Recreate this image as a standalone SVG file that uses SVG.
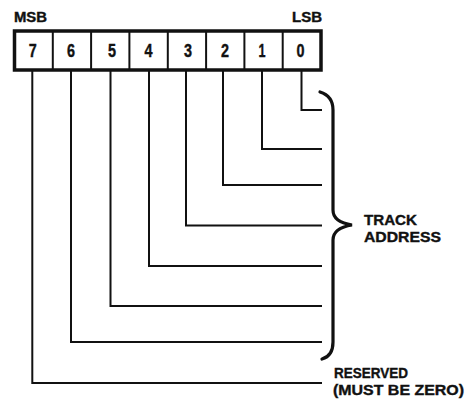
<svg xmlns="http://www.w3.org/2000/svg" width="466" height="401" viewBox="0 0 466 401">
  <style>
    .lbl { font-family: "Liberation Sans", Arial, sans-serif; font-weight: bold; fill: #111; stroke: #111; stroke-width: 0.4; }
    .bit { font-size: 18px; text-anchor: middle; }
    .cap { font-size: 14px; }
    .side { font-size: 15.5px; }
    .wire { fill: none; stroke: #111; stroke-width: 2; stroke-linejoin: miter; }
    .cell { fill: none; stroke: #111; stroke-width: 2; }
  </style>
  <rect width="466" height="401" fill="#fff"/>

  <!-- MSB / LSB captions -->
  <text class="lbl cap" x="14" y="22" textLength="33" lengthAdjust="spacingAndGlyphs">MSB</text>
  <text class="lbl cap" x="292" y="22" textLength="30" lengthAdjust="spacingAndGlyphs">LSB</text>

  <!-- register cells -->
  <g id="register">
    <rect x="14.5" y="31" width="306.5" height="39" fill="#fff" stroke="#111" stroke-width="3.5"/>
    <line class="cell" x1="52.8" y1="31" x2="52.8" y2="70"/>
    <line class="cell" x1="91.1" y1="31" x2="91.1" y2="70"/>
    <line class="cell" x1="129.4" y1="31" x2="129.4" y2="70"/>
    <line class="cell" x1="167.8" y1="31" x2="167.8" y2="70"/>
    <line class="cell" x1="206.1" y1="31" x2="206.1" y2="70"/>
    <line class="cell" x1="244.4" y1="31" x2="244.4" y2="70"/>
    <line class="cell" x1="282.7" y1="31" x2="282.7" y2="70"/>
    <g id="bit7"><text class="lbl bit" x="32.7" y="57" textLength="8" lengthAdjust="spacingAndGlyphs">7</text></g>
    <g id="bit6"><text class="lbl bit" x="71" y="57" textLength="8" lengthAdjust="spacingAndGlyphs">6</text></g>
    <g id="bit5"><text class="lbl bit" x="112" y="57" textLength="8" lengthAdjust="spacingAndGlyphs">5</text></g>
    <g id="bit4"><text class="lbl bit" x="148.5" y="57" textLength="8" lengthAdjust="spacingAndGlyphs">4</text></g>
    <g id="bit3"><text class="lbl bit" x="188" y="57" textLength="8" lengthAdjust="spacingAndGlyphs">3</text></g>
    <g id="bit2"><text class="lbl bit" x="225" y="57" textLength="8" lengthAdjust="spacingAndGlyphs">2</text></g>
    <g id="bit1"><text class="lbl bit" x="262" y="57" textLength="7" lengthAdjust="spacingAndGlyphs">1</text></g>
    <g id="bit0"><text class="lbl bit" x="300.5" y="57" textLength="8" lengthAdjust="spacingAndGlyphs">0</text></g>
  </g>

  <!-- bit lines -->
  <g id="connectors">
    <polyline class="wire" points="301.5,71 301.5,110 322,110"/>
    <polyline class="wire" points="262,71 262,149 322,149"/>
    <polyline class="wire" points="223,71 223,185 322,185"/>
    <polyline class="wire" points="186,71 186,225.5 322,225.5"/>
    <polyline class="wire" points="149,71 149,266 322,266"/>
    <polyline class="wire" points="110.5,71 110.5,306 322,306"/>
    <polyline class="wire" points="71,71 71,342 322,342"/>
    <polyline class="wire" points="32.3,71 32.3,383 322,383"/>
  </g>

  <!-- brace grouping bits 0-6 -->
  <g id="brace">
    <path d="M320,92 Q333,96 333,110 L333,210 Q333,222 352,225 Q333,228 333,240 L333,342 Q333,356 322,359"
          fill="none" stroke="#111" stroke-width="3.2" stroke-linecap="round"/>
  </g>

  <g id="track-address">
    <text class="lbl side" x="364" y="224.5" textLength="53" lengthAdjust="spacingAndGlyphs">TRACK</text>
    <text class="lbl side" x="364" y="241.5" textLength="77" lengthAdjust="spacingAndGlyphs">ADDRESS</text>
  </g>

  <g id="reserved">
    <text class="lbl side" x="334" y="378" textLength="74" lengthAdjust="spacingAndGlyphs">RESERVED</text>
    <text class="lbl side" x="333" y="394.5" textLength="131" lengthAdjust="spacingAndGlyphs">(MUST BE ZERO)</text>
  </g>
</svg>
